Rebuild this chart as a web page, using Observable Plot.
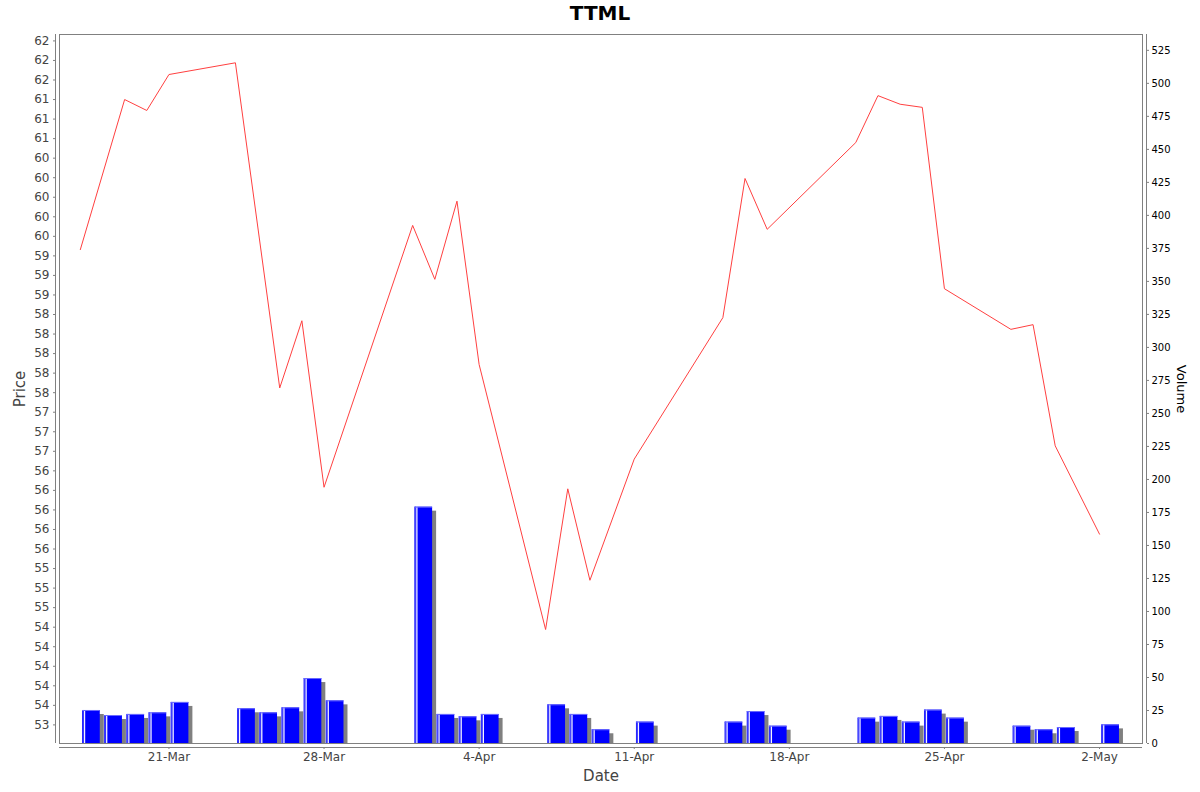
<!DOCTYPE html>
<html>
<head>
<meta charset="utf-8">
<script src="https://cdn.jsdelivr.net/npm/d3@7"></script>
<script src="https://cdn.jsdelivr.net/npm/@observablehq/plot@0.6"></script>
<style>
  body { margin: 0; background: #fff; }
  #chart { position: relative; width: 1200px; height: 792px; font-family: "DejaVu Sans", sans-serif; }
  #chart svg { position: absolute; left: 0; top: 0; }
  #title { position: absolute; left: 0; top: 1px; width: 1200px; text-align: center;
           font: bold 20px "DejaVu Sans", sans-serif; color: #000; z-index: 2; }
</style>
</head>
<body>
<div id="chart"><div id="title">TTML</div></div>
<script>
// ---- data ----
const priceDates = ["2014-03-17","2014-03-19","2014-03-20","2014-03-21","2014-03-24","2014-03-26",
  "2014-03-27","2014-03-28","2014-04-01","2014-04-02","2014-04-03","2014-04-04","2014-04-07",
  "2014-04-08","2014-04-09","2014-04-11","2014-04-15","2014-04-16","2014-04-17","2014-04-21",
  "2014-04-22","2014-04-23","2014-04-24","2014-04-25","2014-04-28","2014-04-29","2014-04-30","2014-05-02"];
const priceValues = [59.33, 61.25, 61.11, 61.57, 61.72, 57.56,
  58.42, 56.29, 59.64, 58.95, 59.95, 57.86, 54.47,
  56.27, 55.10, 56.65, 58.46, 60.24, 59.59, 60.70,
  61.30, 61.19, 61.15, 58.83, 58.31, 58.37, 56.82, 55.69];

const volumeDates = ["2014-03-17","2014-03-18","2014-03-19","2014-03-20","2014-03-21",
  "2014-03-24","2014-03-25","2014-03-26","2014-03-27","2014-03-28",
  "2014-04-01","2014-04-02","2014-04-03","2014-04-04",
  "2014-04-07","2014-04-08","2014-04-09","2014-04-11",
  "2014-04-15","2014-04-16","2014-04-17",
  "2014-04-21","2014-04-22","2014-04-23","2014-04-24","2014-04-25",
  "2014-04-28","2014-04-29","2014-04-30","2014-05-02"];
const volumeValues = [25.0, 21.2, 22.0, 23.2, 31.1,
  26.3, 23.2, 27.0, 49.2, 32.3,
  179.0, 22.0, 20.2, 22.0,
  29.3, 22.0, 10.4, 16.2,
  16.2, 24.2, 13.1,
  19.2, 20.5, 16.2, 25.3, 19.2,
  13.1, 10.4, 12.1, 14.1];

const xTickDates = ["2014-03-21","2014-03-28","2014-04-04","2014-04-11","2014-04-18","2014-04-25","2014-05-02"];
const monthNames = ["Jan","Feb","Mar","Apr","May","Jun","Jul","Aug","Sep","Oct","Nov","Dec"];
const priceTicks = d3.range(53.25, 62.001, 0.25);
const volumeTicks = d3.range(0, 526, 25);
const priceDomain = [53.012, 62.082];
const volumeDomain = [0, 537];

// ---- helpers ----
const DAY = 864e5;
const parse = s => new Date(s + "T00:00:00Z");
const xDomain = [new Date(parse("2014-03-17").getTime() - 0.94 * DAY),
                 new Date(parse("2014-05-03").getTime() + 0.94 * DAY)];
const halfEven = v => {
  const f = Math.floor(v), d = v - f;
  if (Math.abs(d - 0.5) < 1e-9) return (f % 2 === 0) ? f : f + 1;
  return Math.round(v);
};
const fmtDate = d => `${d.getUTCDate()}-${monthNames[d.getUTCMonth()]}`;

const priceData = priceDates.map((d, i) => ({date: parse(d), price: priceValues[i]}));
const volumeData = volumeDates.map((d, i) => ({date: parse(d), volume: volumeValues[i]}));
const bx1 = d => new Date(d.date.getTime() + 0.1 * DAY);
const bx2 = d => new Date(d.date.getTime() + 0.9 * DAY);

const common = {
  width: 1200, height: 792,
  marginLeft: 59, marginRight: 58, marginTop: 34, marginBottom: 49,
  style: {background: "transparent", fontFamily: "DejaVu Sans, sans-serif", overflow: "visible"}
};

// ---- volume plot (bottom layer) ----
const volumePlot = Plot.plot({
  ...common,
  x: {type: "utc", domain: xDomain, axis: null},
  y: {domain: volumeDomain},
  marks: [
    Plot.rect(volumeData, {x1: bx1, x2: bx2, y1: 0, y2: "volume", fill: "#808080", dx: 4, dy: 4, clip: true}),
    Plot.rect(volumeData, {x1: bx1, x2: bx2, y1: 0, y2: "volume", fill: "#0000ff"}),
    Plot.ruleX(volumeData, {x: bx1, y1: 0, y2: "volume", stroke: "#4848ff", strokeWidth: 1, dx: 0.5}),
    Plot.ruleX(volumeData, {x: bx1, y1: 0, y2: "volume", stroke: "#f4f4ff", strokeWidth: 1.3, dx: 2.0}),
    Plot.ruleY(volumeData, {x1: bx1, x2: bx2, y: "volume", stroke: "#6a6aff", strokeWidth: 1, dy: 0}),
    Plot.axisY({anchor: "right", ticks: volumeTicks, tickFormat: d => String(d), tickSize: 2, tickPadding: 3,
                dx: 4, fontSize: 10, fill: "#000", stroke: "#808080", label: null}),
    Plot.ruleX([xDomain[1]], {dx: 4, stroke: "#808080"}),
    Plot.text(["Volume"], {frameAnchor: "right", dx: 39, rotate: 90, fontSize: 13, fill: "#000",
                           textAnchor: "middle", lineAnchor: "middle"})
  ]
});

// ---- price plot (top layer) ----
const pricePlot = Plot.plot({
  ...common,
  x: {type: "utc", domain: xDomain},
  y: {domain: priceDomain},
  marks: [
    Plot.frame({stroke: "#808080"}),
    Plot.line(priceData, {x: "date", y: "price", stroke: "#ff4040", strokeWidth: 1}),
    Plot.axisY({anchor: "left", ticks: priceTicks, tickFormat: d => String(halfEven(d)), tickSize: 2, tickPadding: 4,
                dx: -4, fontSize: 12, fill: "#444", stroke: "#808080", label: null}),
    Plot.axisX({anchor: "bottom", ticks: xTickDates.map(parse), tickFormat: fmtDate, tickSize: 2, tickPadding: 3,
                dy: 4, fontSize: 12, fill: "#444", stroke: "#808080", label: null}),
    Plot.ruleX([xDomain[0]], {dx: -4, stroke: "#808080"}),
    Plot.ruleY([priceDomain[0]], {dy: 4, stroke: "#808080"}),
    Plot.text(["Price"], {frameAnchor: "left", dx: -39, rotate: -90, fontSize: 15, fill: "#444",
                          textAnchor: "middle", lineAnchor: "middle"}),
    Plot.text(["Date"], {frameAnchor: "bottom", dy: 33, fontSize: 15, fill: "#444",
                         textAnchor: "middle", lineAnchor: "middle"})
  ]
});

const chart = document.getElementById("chart");
chart.appendChild(volumePlot);
chart.appendChild(pricePlot);
</script>
</body>
</html>
